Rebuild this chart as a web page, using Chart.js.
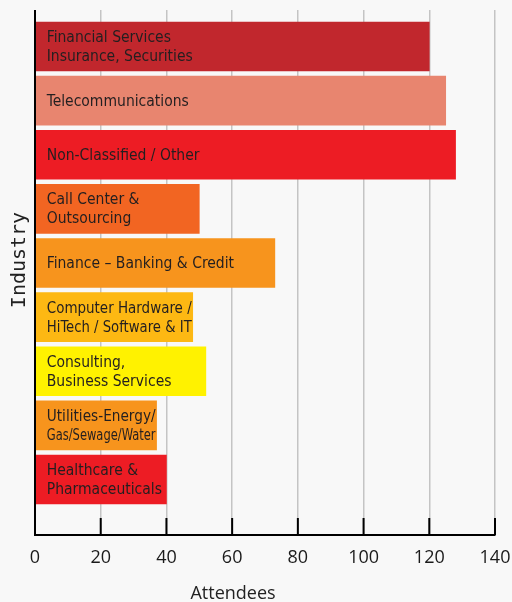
<!DOCTYPE html>
<html>
<head>
<meta charset="utf-8">
<script src="https://cdn.jsdelivr.net/npm/chart.js@4.4.1/dist/chart.umd.min.js"></script>
<style>
  html, body { margin: 0; padding: 0; background: #f8f8f8; }
  #wrap { width: 512px; height: 602px; position: relative; }
</style>
</head>
<body>
<div id="wrap"><canvas id="c" width="512" height="602"></canvas></div>
<script>
// ---- data ----
const categories = [
  ["Financial Services", "Insurance, Securities"],
  ["Telecommunications"],
  ["Non-Classified / Other"],
  ["Call Center &", "Outsourcing"],
  ["Finance \u2013 Banking & Credit"],
  ["Computer Hardware /", "HiTech / Software & IT"],
  ["Consulting,", "Business Services"],
  ["Utilities-Energy/", "Gas/Sewage/Water"],
  ["Healthcare &", "Pharmaceuticals"]
];
const attendees = [120, 125, 128, 50, 73, 48, 52, 37, 40];
const xTicks = [0, 20, 40, 60, 80, 100, 120, 140];
const barColors = ['#c1272d', '#e8856f', '#ed1c24', '#f26522', '#f7941d', '#fdb813', '#fff200', '#f7941d', '#ed1c24'];
const xTitle = "Attendees";
const yTitle = "Industry";

const points = attendees.map((v, i) => ({ x: v, y: i }));

const decor = {
  id: 'decor',
  beforeDraw(chart) {
    const ctx = chart.ctx;
    ctx.save();
    ctx.fillStyle = '#f8f8f8';
    ctx.fillRect(0, 0, chart.width, chart.height);
    ctx.restore();
  },
  afterDatasetsDraw(chart) {
    const ctx = chart.ctx;
    const meta = chart.getDatasetMeta(0);
    ctx.save();
    ctx.fillStyle = '#231f20';
    ctx.font = '15.5px "DejaVu Sans Condensed", "DejaVu Sans", sans-serif';
    ctx.textBaseline = 'middle';
    ctx.textAlign = 'left';
    meta.data.forEach((bar, i) => {
      const lines = categories[i];
      const left = Math.min(bar.base, bar.x);
      const w = Math.abs(bar.x - bar.base);
      const lh = 19;
      lines.forEach((t, k) => {
        const y = bar.y + (k - (lines.length - 1) / 2) * lh + 1;
        ctx.fillText(t, left + 11, y, w - 12);
      });
    });
    ctx.restore();
  },
  afterDraw(chart) {
    const ctx = chart.ctx;
    const a = chart.chartArea;
    const xs = chart.scales.x;
    ctx.save();
    ctx.strokeStyle = '#000';
    ctx.lineWidth = 2;
    ctx.beginPath();
    ctx.moveTo(a.left, a.top);
    ctx.lineTo(a.left, a.bottom);
    ctx.stroke();
    xTicks.forEach(v => {
      const px = xs.getPixelForValue(v);
      ctx.beginPath();
      ctx.moveTo(px, a.bottom - 17);
      ctx.lineTo(px, a.bottom);
      ctx.stroke();
    });
    ctx.fillStyle = '#222';
    ctx.font = '18px "Open Sans", sans-serif';
    ctx.textAlign = 'center';
    ctx.textBaseline = 'alphabetic';
    ctx.fillText(xTitle, 233, 599);
    ctx.translate(25, 260);
    ctx.rotate(-Math.PI / 2);
    ctx.font = '20px "DejaVu Sans Mono", monospace';
    ctx.fillText(yTitle, 0, 0);
    ctx.restore();
  }
};

new Chart(document.getElementById('c'), {
  type: 'bar',
  data: {
    datasets: [{
      data: points,
      backgroundColor: barColors,
      borderWidth: 0,
      barThickness: 49
    }]
  },
  options: {
    indexAxis: 'y',
    responsive: false,
    animation: false,
    events: [],
    layout: { padding: { left: 35, right: 17, top: 10, bottom: 0 } },
    plugins: { legend: { display: false }, tooltip: { enabled: false } },
    scales: {
      x: {
        type: 'linear',
        position: 'bottom',
        min: 0, max: 140,
        afterBuildTicks(scale) { scale.ticks = xTicks.map(v => ({ value: v })); },
        afterFit(scale) {
          scale.height = 67;
          scale.paddingLeft = 0;
          scale.paddingRight = 0;
        },
        grid: { color: '#c4c4c4', lineWidth: 1.5, drawTicks: false },
        border: { display: true, color: '#000', width: 2 },
        ticks: {
          padding: 12,
          color: '#1a1a1a',
          font: { family: '"Open Sans", sans-serif', size: 18 }
        }
      },
      y: {
        type: 'linear',
        display: false,
        reverse: true,
        offset: false,
        grid: { offset: false },
        min: -0.674,
        max: 9.026
      }
    }
  },
  plugins: [decor]
});
</script>
</body>
</html>
